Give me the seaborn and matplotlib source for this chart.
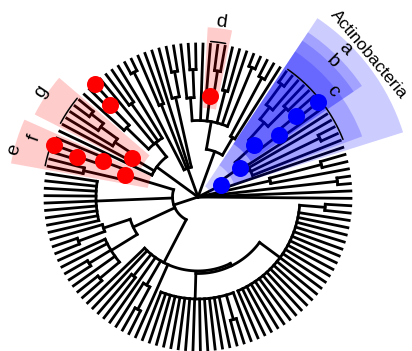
import matplotlib
matplotlib.use("Agg")
import matplotlib.pyplot as plt
from matplotlib.patches import Wedge
import numpy as np
import pandas as pd
import seaborn as sns

# Tree pieces in counter-clockwise order from the right.
# "(...)name:depth" - depth of an internal node; tips sit at TIP_DEPTH.
TIP_DEPTH = 6.0
right_fan = "t,t,(t,t):5.5,(t,(t,t):5.0):2.9"
actino = ("(t,((t,(t,t):5.3,t,t):2.3,((t,(tA,t)A5:5.0)A4:4.0,"
          "((t,t):4.9,(t,(t,t):5.5):4.5):3.9)A3:3.0)A2:2.0)A1:1.0")
upper_right = ("((t,(t,t):5.3):2.7,((t,t):5.5,t,(t,t):4.3,((t,t):5.0,t)d:4.0,"
               "t,((t,t):5.0,t):3.9):3.0):1.9")
top = "(((t,t):5.0,t):4.0,t,(t,t):3.9,(t,t):5.5):1.2"
upper_left = ("((t,(t,t):4.5,t,((tR,t)R1:5.0,t):3.9):2.7,"
              "((((t,t):5.3,t):4.7,t):3.9,t)G:3.0,t):2.0")
ef = "((t,(f,e1)F2:5.0)F1:4.0,(t,e3):4.6)EF:3.0"
left_comb = "(t,t,t,t,t,t,t,t,t):4.0"
lower_left = "((t,(t,t):5.0):3.9,(t,t,(t,t):5.0,t,(t,t):5.0):4.0):2.8"
bottom = "(t,t,t,t,t,t,t,t,t,t,t,t,t,(t,t):5.0,t):4.0"
lower_right = "(t,t,t,t,t,t,t,t,t,t,t,t,t,t,t,t,t,t,t,t,t,t,(t,t):5.0):4.0"
lower = "(t,t,(t,t):4.0,t,(t,(t,t):5.0):4.0,t,(" + bottom + "," + lower_right + "):3.0):2.9"
left = "(" + ",".join([ef, left_comb, lower_left, lower]) + "):1.0"
tree_str = "(" + ",".join([right_fan, actino, upper_right, top, upper_left, left]) + ");"

# highlighted nodes
blue_nodes = ["A1", "A2", "A3", "A4", "A5", "tA"]
red_nodes = ["d", "R1", "tR", "EF", "F1", "F2", "f", "G"]

# highlight wedges: node, outer radius (px), colour
hl_nodes = ["A1", "A3", "A3", "A2", "d", "G", "EF"]
hl_outer = [215, 198, 188, 175, 170, 183, 190]
hl_colors = ["blue", "blue", "blue", "blue", "red", "red", "red"]

# clade labels: text, first tip/node, last tip/node, radius, angle nudge, size
lab_text = ["Actinobacteria", "a", "b", "c", "d", "e", "f", "g"]
lab_from = ["A1", "A3", "A3", "A2", "d", "e1", "f", "G"]
lab_to = ["A1", "A3", "A3", "A2", "d", "e3", "f", "G"]
lab_r = [222, 209, 191, 171, 176, 190, 174, 189]
lab_nudge = [3.0, 0, 0, 0, 0, 0, 0, 0]
lab_size = [12.5, 14, 14, 14, 14, 14, 14, 14]

# clade bars
bar_from = ["A2", "d", "G", "e1"]
bar_to = ["A2", "d", "G", "e3"]

R_TIP = 153
START = -0.5


def parse_newick(s):
    pos = 0

    def node():
        nonlocal pos
        kids = []
        if s[pos] == "(":
            pos += 1
            while True:
                kids.append(node())
                ch = s[pos]
                pos += 1
                if ch == ")":
                    break
        start = pos
        while pos < len(s) and s[pos] not in ",);":
            pos += 1
        name, _, h = s[start:pos].partition(":")
        depth = float(h) if h else (0.0 if kids else TIP_DEPTH)
        return {"name": name, "depth": depth, "kids": kids}

    return node()


def layout(root):
    tips = []
    nodes = {}

    def walk(n, parent):
        n["parent"] = parent
        n["r"] = n["depth"] / TIP_DEPTH * R_TIP
        if n["name"]:
            nodes[n["name"]] = n
        if not n["kids"]:
            tips.append(n)
        for k in n["kids"]:
            walk(k, n)

    walk(root, None)
    step = 360.0 / len(tips)
    for i, t in enumerate(tips):
        t["theta"] = START + i * step
        t["lo"] = t["hi"] = t["theta"]

    def post(n):
        if n["kids"]:
            for k in n["kids"]:
                post(k)
            n["theta"] = np.mean([k["theta"] for k in n["kids"]])
            n["lo"] = min(k["lo"] for k in n["kids"])
            n["hi"] = max(k["hi"] for k in n["kids"])

    post(root)
    return nodes, step


def polar(r, th):
    t = np.deg2rad(th)
    return r * np.cos(t), r * np.sin(t)


root = parse_newick(tree_str)
nodes, step = layout(root)

rows = []
seg = 0


def add_segments(n):
    global seg
    if n["parent"] is not None:
        for r in (n["parent"]["r"], n["r"]):
            x, y = polar(r, n["theta"])
            rows.append((seg, x, y))
        seg += 1
    if n["kids"] and n["r"] > 0:
        ths = [k["theta"] for k in n["kids"]]
        for th in np.linspace(min(ths), max(ths), 40):
            x, y = polar(n["r"], th)
            rows.append((seg, x, y))
        seg += 1
    for k in n["kids"]:
        add_segments(k)


add_segments(root)
segs = pd.DataFrame(rows, columns=["seg", "x", "y"])

sns.set_theme(style="white")
plt.rcParams["font.family"] = ["Liberation Sans", "DejaVu Sans"]

fig = plt.figure(figsize=(4.12, 3.51), dpi=100)
ax = fig.add_axes([0, 0, 1, 1])

sns.lineplot(data=segs, x="x", y="y", units="seg", estimator=None, sort=False,
             color="black", linewidth=2.0, ax=ax, zorder=2,
             solid_capstyle="projecting", legend=False)

for name, r_out, col in zip(hl_nodes, hl_outer, hl_colors):
    n = nodes[name]
    r_in = n["r"] - (n["r"] - n["parent"]["r"]) / 2
    ax.add_patch(Wedge((0, 0), r_out, n["lo"] - step / 2, n["hi"] + step / 2,
                       width=r_out - r_in, facecolor=col, alpha=0.2, lw=0, zorder=3))

for a, b in zip(bar_from, bar_to):
    th = np.linspace(nodes[a]["lo"], nodes[b]["hi"], 30)
    x, y = polar(R_TIP + 3, th)
    ax.plot(x, y, color="black", lw=1.1, zorder=4)

for names, col in ((blue_nodes, "blue"), (red_nodes, "red")):
    pts = pd.DataFrame([polar(nodes[n]["r"], nodes[n]["theta"]) for n in names],
                       columns=["x", "y"])
    sns.scatterplot(data=pts, x="x", y="y", color=col, s=150, linewidth=0,
                    ax=ax, zorder=5)

for txt, a, b, r, nudge, size in zip(lab_text, lab_from, lab_to, lab_r,
                                     lab_nudge, lab_size):
    th = (nodes[a]["lo"] + nodes[b]["hi"]) / 2 + nudge
    x, y = polar(r, th)
    ax.text(x, y, txt, rotation=th - 90, rotation_mode="anchor", ha="center",
            va="center", fontsize=size, color="black", zorder=6)

ax.set_xlim(-198, 214)
ax.set_ylim(-154, 197)
ax.set_aspect("equal")
ax.axis("off")
fig.savefig("out.png", dpi=100)
